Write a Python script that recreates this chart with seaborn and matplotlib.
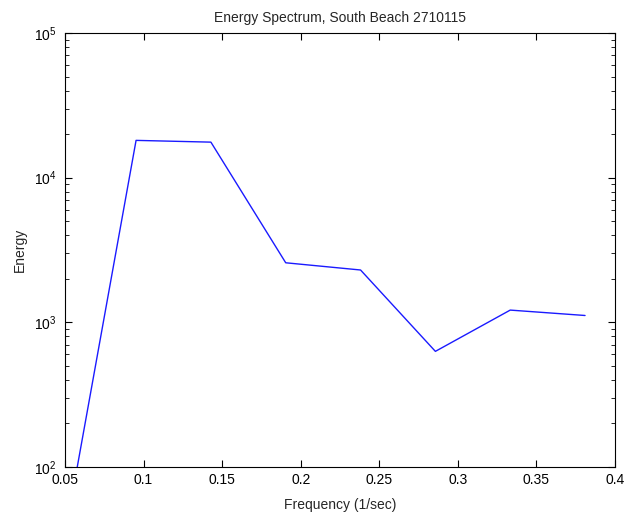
import matplotlib
matplotlib.use("Agg")
import matplotlib.pyplot as plt
import pandas as pd
import seaborn as sns
from matplotlib.ticker import LogLocator, FixedLocator

# Datos
frecuencia = [1/21, 2/21, 3/21, 4/21, 5/21, 6/21, 7/21, 8/21]
energia = [24.3, 18100, 17600, 2580, 2300, 630, 1215, 1115]

sns.set_style("ticks")
plt.rcParams['font.family'] = ['Liberation Sans', 'DejaVu Sans']
plt.rcParams['mathtext.fontset'] = 'custom'
plt.rcParams['mathtext.rm'] = 'Liberation Sans'
plt.rcParams['mathtext.default'] = 'regular'
plt.rcParams['font.size'] = 10

df = pd.DataFrame({'Frecuencia': frecuencia, 'Energia': energia})

fig = plt.figure(figsize=(6.26, 5.17), dpi=100)
ax = fig.add_axes([0.1038, 0.0967, 0.8786, 0.8395])

sns.lineplot(data=df, x='Frecuencia', y='Energia', ax=ax, color='#1a1aff',
             linewidth=1.0, sort=False)

ax.set_yscale('log')
ax.set_xlim(0.05, 0.4)
ax.set_ylim(1e2, 1e5)
ax.xaxis.set_major_locator(FixedLocator([0.05, 0.1, 0.15, 0.2, 0.25, 0.3, 0.35, 0.4]))
ax.set_xticklabels(['0.05', '0.1', '0.15', '0.2', '0.25', '0.3', '0.35', '0.4'])
ax.yaxis.set_major_locator(LogLocator(base=10, numticks=10))
ax.yaxis.set_minor_locator(LogLocator(base=10, subs=range(2, 10), numticks=10))

for s in ax.spines.values():
    s.set_visible(True)
    s.set_linewidth(0.8)
    s.set_color('black')
ax.tick_params(which='both', direction='in', top=True, right=True, colors='black',
               labelsize=10)
ax.tick_params(which='major', length=5, width=0.8)
ax.tick_params(which='minor', length=3, width=0.6)
ax.tick_params(axis='x', pad=4)
ax.tick_params(axis='y', pad=6)
for lbl in ax.get_yticklabels():
    lbl.set_verticalalignment('center_baseline')

ax.set_title('Energy Spectrum, South Beach 2710115', fontsize=10, pad=8)
ax.set_xlabel('Frequency (1/sec)', fontsize=10, labelpad=8)
ax.set_ylabel('Energy', fontsize=10, labelpad=5)

fig.savefig('out.png', dpi=100, facecolor='white')
